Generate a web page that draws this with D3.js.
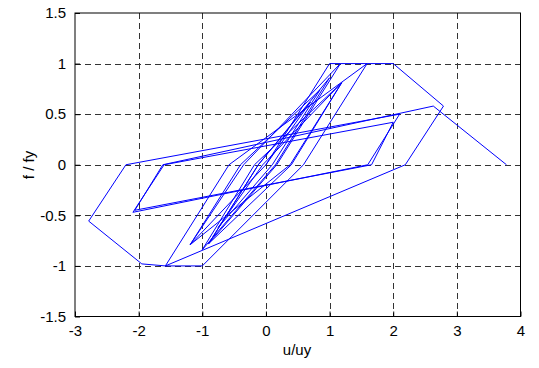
<html lang="en">
<head>
<meta charset="UTF-8">
<title>f / fy vs u/uy</title>
<style>
  body { margin: 0; background: #fff; }
  .grid line { stroke: #333; stroke-width: 1; stroke-dasharray: 6,4; shape-rendering: crispEdges; }
  .tick-label { font-family: "Liberation Sans", Arial, sans-serif; font-size: 15px; fill: #000; }
  .axis-label { font-family: "Liberation Sans", Arial, sans-serif; font-size: 15px; fill: #000; }
  .curve { fill: none; stroke: #0000ff; stroke-width: 1; stroke-linejoin: miter; }
</style>
</head>
<body>
<svg width="539" height="368"></svg>
<script src="https://cdn.jsdelivr.net/npm/d3@7"></script>
<script>
(function() {
    'use strict';

    // displacement / force path
    var u = [0, 1.0, 1.17, 0.17, -0.90, -0.12, 1.0, 0.15, -1.0, -0.18, 1.19, 0.38, -1.19, -0.40,
             0.85, 0.10, -0.75, -0.05, 1.19, 0.40, -0.9, -0.12, 0.7, 0.0, -1.19, -0.35,
             1.17, 1.59, 0.59, -1.0, -1.19, -1.58, -0.58, 1.59, 2.0, 2.79, 2.19, -1.58, -1.95, -2.785, -2.2,
             2.1, 1.6, -2.09, -1.6, 2.0, 1.66, -2.06, -1.62, 2.63, 3.78];
    var f = [0, 1.0, 1.0, 0, -0.78, 0, 0.86, 0, -0.84, 0, 0.81, 0, -0.79, 0,
             0.74, 0, -0.62, 0, 0.81, 0, -0.78, 0, 0.62, 0, -0.79, 0,
             1.0, 1.0, 0, -1.0, -1.0, -1.0, 0, 1.0, 1.0, 0.58, 0, -1.0, -0.98, -0.557, 0,
             0.5, 0, -0.47, 0, 0.42, 0, -0.45, 0, 0.58, 0];

    var xTicks = [-3, -2, -1, 0, 1, 2, 3, 4];
    var yTicks = [-1.5, -1, -0.5, 0, 0.5, 1, 1.5];

    var LEFT = 75, RIGHT = 520.5, TOP = 13, BOTTOM = 316.5;

    var svg = d3.select("svg");

    var x = d3.scaleLinear().domain([-3, 4]).range([LEFT, RIGHT]);
    var y = d3.scaleLinear().domain([-1.5, 1.5]).range([BOTTOM, TOP]);

    // grid
    var grid = svg.append("g").attr("class", "grid");
    grid.selectAll(".gx")
        .data(xTicks.slice(1, -1))
        .enter().append("line")
        .attr("x1", function(d) { return Math.round(x(d)) + 0.5; })
        .attr("x2", function(d) { return Math.round(x(d)) + 0.5; })
        .attr("y1", TOP).attr("y2", BOTTOM);
    grid.selectAll(".gy")
        .data(yTicks.slice(1, -1))
        .enter().append("line")
        .attr("y1", function(d) { return Math.round(y(d)) + 0.5; })
        .attr("y2", function(d) { return Math.round(y(d)) + 0.5; })
        .attr("x1", LEFT).attr("x2", RIGHT);

    // curve
    var pts = u.map(function(d, i) { return [d, f[i]]; });
    var line = d3.line()
        .x(function(d) { return x(d[0]); })
        .y(function(d) { return y(d[1]); });
    svg.append("path")
        .datum(pts)
        .attr("class", "curve")
        .attr("d", line);

    // box
    svg.append("rect")
        .attr("x", LEFT).attr("y", TOP)
        .attr("width", RIGHT - LEFT).attr("height", BOTTOM - TOP)
        .attr("fill", "none").attr("stroke", "#000").attr("stroke-width", 1);

    // axes with inward ticks
    var xAxis = d3.axisBottom(x).tickValues(xTicks).tickSize(-5).tickPadding(9)
        .tickFormat(function(d) { return d; });
    var yAxis = d3.axisLeft(y).tickValues(yTicks).tickSize(-5).tickPadding(9)
        .tickFormat(function(d) { return d; });

    var gx = svg.append("g").attr("transform", "translate(0," + BOTTOM + ")").call(xAxis);
    var gy = svg.append("g").attr("transform", "translate(" + LEFT + ",0)").call(yAxis);
    [gx, gy].forEach(function(g) {
        g.select(".domain").remove();
        g.selectAll("line").attr("stroke", "#000");
        g.selectAll("text").attr("class", "tick-label").attr("font-family", null).attr("font-size", null);
    });

    svg.append("text")
        .attr("class", "axis-label")
        .attr("x", 297).attr("y", 355)
        .attr("text-anchor", "middle")
        .text("u/uy");

    svg.append("text")
        .attr("class", "axis-label")
        .attr("transform", "translate(34,165) rotate(-90)")
        .attr("text-anchor", "middle")
        .text("f / fy");
})();
</script>
</body>
</html>
